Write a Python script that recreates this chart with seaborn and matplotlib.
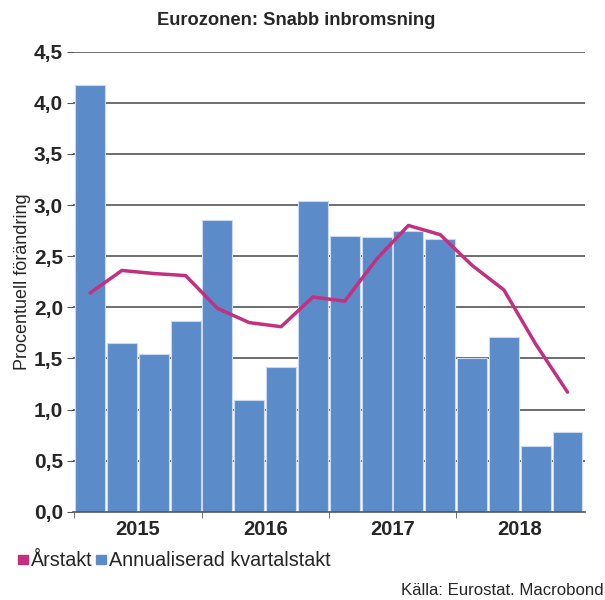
import numpy as np
import pandas as pd
import seaborn as sns
import matplotlib.pyplot as plt
from matplotlib.patches import Rectangle

# quarters 2015Q1 - 2018Q4
kvartal = [f"{y}Q{q}" for y in range(2015, 2019) for q in range(1, 5)]
ar = ["2015", "2016", "2017", "2018"]

# annualiserad kvartalstakt (bars)
kvartalstakt = [4.17, 1.65, 1.54, 1.87, 2.85, 1.09, 1.42, 3.04,
                2.70, 2.69, 2.75, 2.67, 1.50, 1.71, 0.64, 0.78]
# årstakt (line)
arstakt = [2.14, 2.36, 2.33, 2.31, 1.99, 1.85, 1.81, 2.10,
           2.06, 2.47, 2.80, 2.71, 2.41, 2.17, 1.64, 1.17]

bar_col = "#5b8bc9"
line_col = "#c2307f"

sns.set_style("white")
plt.rcParams['font.family'] = ['Liberation Sans', 'DejaVu Sans']

df = pd.DataFrame({"kvartal": kvartal, "kvartalstakt": kvartalstakt,
                   "arstakt": arstakt, "pos": np.arange(len(kvartal))})

fig = plt.figure(figsize=(6.05, 6.0), dpi=100)
ax = fig.add_axes([0.12, 0.147, 0.847, 0.767])

for v in np.arange(0.5, 4.6, 0.5):
    ax.axhline(v, color="#555555", lw=1.2, zorder=0)

sns.barplot(data=df, x="kvartal", y="kvartalstakt", color=bar_col, width=0.94,
            saturation=1, edgecolor="#c9d9ef", linewidth=0.8, ax=ax, zorder=2)
sns.lineplot(data=df, x="pos", y="arstakt", color=line_col, lw=2.5, ax=ax, zorder=3)

ax.set_xlim(-0.55, len(kvartal) - 0.45)
ax.set_ylim(0, 4.5)
ax.set_yticks(np.arange(0, 4.6, 0.5))
ax.set_yticklabels([f"{v:.1f}".replace(".", ",") for v in np.arange(0, 4.6, 0.5)],
                   fontsize=15, fontweight="bold")
ax.set_xticks([1.5, 5.5, 9.5, 13.5])
ax.set_xticklabels(ar, fontsize=14.5, fontweight="bold")
ax.set_xticks([-0.5, 3.5, 7.5, 11.5], minor=True)
ax.tick_params(axis="x", which="major", length=0, pad=6)
ax.tick_params(axis="x", which="minor", length=4, color="#555555", bottom=True)
ax.tick_params(axis="y", length=4, color="#555555", left=True, pad=3)
for s in ["top", "right", "left"]:
    ax.spines[s].set_visible(False)
ax.spines["bottom"].set_color("#555555")
ax.spines["bottom"].set_linewidth(1.2)

ax.set_xlabel("")
ax.set_ylabel("Procentuell förändring", fontsize=13, labelpad=2)
ax.set_title("Eurozonen: Snabb inbromsning", fontsize=13.2, fontweight="bold",
             pad=19, x=0.436)

handles = [Rectangle((0, 0), 1, 1, color=line_col), Rectangle((0, 0), 1, 1, color=bar_col)]
fig.legend(handles, ["Årstakt", "Annualiserad kvartalstakt"], loc="lower left",
           bbox_to_anchor=(0.0, 0.02), ncol=2, frameon=False, fontsize=14.2,
           handlelength=0.5, handleheight=0.35, handletextpad=0.15, columnspacing=0.2)
fig.text(0.997, 0.003, "Källa: Eurostat. Macrobond", ha="right", va="bottom", fontsize=12.1)

fig.savefig("out.png", dpi=100)
